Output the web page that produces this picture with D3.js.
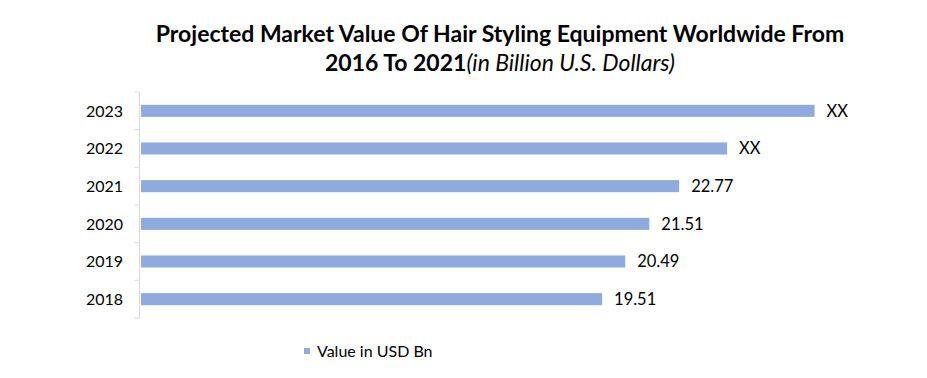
<!DOCTYPE html>
<html>
<head>
<meta charset="utf-8">
<script src="https://cdn.jsdelivr.net/npm/d3@7"></script>
<style>
    body { margin: 0; background: #fff; }
    text { font-family: Lato, "Open Sans", sans-serif; fill: #000; }
</style>
</head>
<body>
<div id="chart"></div>
<script>
// data
const years = ["2023", "2022", "2021", "2020", "2019", "2018"];
const values = [28.5, 24.8, 22.77, 21.51, 20.49, 19.51];   // 2022/2023
const valueLabels = ["XX", "XX", "22.77", "21.51", "20.49", "19.51"];
const seriesName = "Value in USD Bn";
const titleLine1 = "Projected Market Value Of Hair Styling Equipment Worldwide From";
const titleLine2Bold = "2016 To 2021";
const titleLine2Italic = "(in Billion U.S. Dollars)";

const width = 927, height = 378;
const barColor = "#8faadc";

let svg = d3.select("#chart").append("svg")
    .attr("width", width)
    .attr("height", height);

let data = years.map((y, i) => ({year: y, value: values[i], label: valueLabels[i]}));

// scales
let x = d3.scaleLinear()
    .domain([0, 30])
    .range([141, 850]);

let y = d3.scaleBand()
    .domain(years)
    .range([92, 318])
    .paddingInner(0.68)
    .paddingOuter(0.34);

// title
svg.append("text")
    .attr("text-anchor", "middle")
    .attr("x", 500)
    .attr("y", 42)
    .style("font-size", "23px")
    .style("font-weight", "bold")
    .text(titleLine1);

let t2 = svg.append("text")
    .attr("text-anchor", "middle")
    .attr("x", 500)
    .attr("y", 71)
    .style("font-size", "23px");
t2.append("tspan").style("font-weight", "bold").text(titleLine2Bold);
t2.append("tspan").style("font-style", "italic").text(titleLine2Italic);

// y axis line + ticks between categories
let axisG = svg.append("g").attr("class", "y-axis");
axisG.append("line")
    .attr("x1", 139.5).attr("x2", 139.5)
    .attr("y1", y.range()[0]).attr("y2", y.range()[1])
    .attr("stroke", "#d9d9d9");

let step = y.step();
axisG.selectAll(".tick-mark")
    .data(d3.range(years.length + 1))
    .enter()
    .append("line")
    .attr("class", "tick-mark")
    .attr("x1", 134.5).attr("x2", 139.5)
    .attr("y1", i => y.range()[0] + i * step)
    .attr("y2", i => y.range()[0] + i * step)
    .attr("stroke", "#d9d9d9");

axisG.selectAll(".cat-label")
    .data(years)
    .enter()
    .append("text")
    .attr("class", "cat-label")
    .attr("text-anchor", "end")
    .attr("x", 123)
    .attr("y", d => y(d) + y.bandwidth() / 2)
    .attr("dy", "0.36em")
    .style("font-size", "16px")
    .text(d => d);

// bars
svg.selectAll(".bar")
    .data(data)
    .enter()
    .append("rect")
    .attr("class", "bar")
    .attr("x", x(0))
    .attr("y", d => y(d.year))
    .attr("width", d => x(d.value) - x(0))
    .attr("height", y.bandwidth())
    .attr("fill", barColor);

// value labels
svg.selectAll(".val-label")
    .data(data)
    .enter()
    .append("text")
    .attr("class", "val-label")
    .attr("x", d => x(d.value) + 12)
    .attr("y", d => y(d.year) + y.bandwidth() / 2)
    .attr("dy", "0.36em")
    .style("font-size", "16.5px")
    .text(d => d.label);

// legend
svg.append("rect")
    .attr("x", 304)
    .attr("y", 348)
    .attr("width", 6)
    .attr("height", 6)
    .attr("fill", barColor);

svg.append("text")
    .attr("x", 317)
    .attr("y", 351)
    .attr("dy", "0.36em")
    .style("font-size", "16px")
    .text(seriesName);
</script>
</body>
</html>
